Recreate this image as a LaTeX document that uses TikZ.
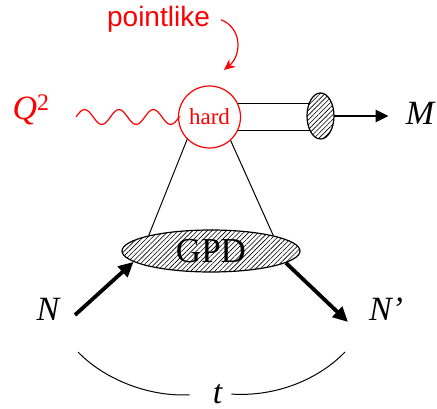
\documentclass[tikz,border=0pt]{standalone}
\usepackage{fontspec}
\setmainfont{Liberation Serif}
\newfontfamily\labelsans{Liberation Sans}
\usepackage{xcolor}
\usepackage{tikz}
\usetikzlibrary{positioning, arrows.meta, calc, shapes.geometric, patterns.meta}
\definecolor{gpd-red}{HTML}{FF0000}
\definecolor{gpd-dark}{HTML}{000000}

\begin{document}
\begin{tikzpicture}[
    x=1pt, y=-1pt,
    big/.style={font=\fontsize{34}{34}\selectfont\itshape, inner sep=2pt},
    hatch/.style={draw=gpd-dark, line width=1.2pt, preaction={fill=white},
        pattern={Lines[angle=45, distance=3.4pt, line width=0.6pt]}},
    fat/.style={line width=3.8pt, -{Triangle[length=15pt, width=14pt]}},
]
    \useasboundingbox (0,0) rectangle (437,409);
    \def\q{8.6}
    \def\a{7.5}

    % Hard part
    \node[circle, draw=gpd-red, text=gpd-red, line width=1.2pt, minimum size=62pt,
          inner sep=0pt, font=\fontsize{23}{23}\selectfont] (hard) at (209.5,117) {hard};
    \node[font=\labelsans\fontsize{28}{28}\selectfont, text=gpd-red, anchor=base,
          inner sep=2pt] (pointlike) at (158.5,27) {pointlike};
    \coordinate (ptip) at (224,70);
    \draw[gpd-red, line width=1.2pt, -{Stealth[length=11pt, width=10pt]}]
        ([xshift=9pt]pointlike.east) .. controls (242,28) and (242,55) .. (ptip);

    % Photon
    \node[big, text=gpd-red, anchor=base] (q2) at (31,120) {Q\textsuperscript{\upshape 2}};
    \coordinate (wstart) at (76,117);
    \draw[gpd-red, line width=1.2pt] (wstart)
        \foreach \k in {1,2,3} {
            sin ++(\q,-\a) cos ++(\q,\a) sin ++(\q,\a) cos ++(\q,-\a)
        } -- (hard.west);

    % Meson
    \coordinate (mc) at (320.5,116);
    \draw[line width=1.2pt] (hard.25) -- (hard.25 -| mc);
    \draw[line width=1.2pt] (hard.-25) -- (hard.-25 -| mc);
    \node[ellipse, hatch, minimum width=27pt, minimum height=46pt, inner sep=0pt] (meson) at (mc) {};
    \node[big, anchor=base] (M) at (420,125) {M};
    \draw[line width=2.4pt, -{Triangle[length=13pt, width=12pt]}, shorten >=15pt]
        (meson.east) -- (meson.east -| M.west);

    % GPD
    \node[ellipse, hatch, minimum width=178pt, minimum height=42pt, inner sep=0pt,
          font=\fontsize{35}{35}\selectfont] (gpd) at (211,251) {GPD};
    \draw[line width=1pt] (hard.225) -- (gpd.166);
    \draw[line width=1pt] (hard.-48) -- (gpd.14);

    % Nucleons
    \node[big, anchor=base] (N) at (48,320) {N};
    \node[big, anchor=base] (Np) at (386,320) {N’};
    \coordinate (nin) at (75,315);
    \coordinate (nout) at (348,322);
    \draw[fat] (nin) -- (gpd.188);
    \draw[fat] (gpd.-9) -- (nout);

    % Momentum transfer
    \node[big, anchor=base] (t) at (217.5,403) {t};
    \coordinate (tl) at (78,352);
    \coordinate (tr) at (345,352);
    \draw[line width=1pt, shorten >=21pt] (tl) .. controls (105,380) and (150,397) .. (t.west);
    \draw[line width=1pt, shorten <=7pt] (t.east) .. controls (275,397) and (318,380) .. (tr);

\end{tikzpicture}
\end{document}
